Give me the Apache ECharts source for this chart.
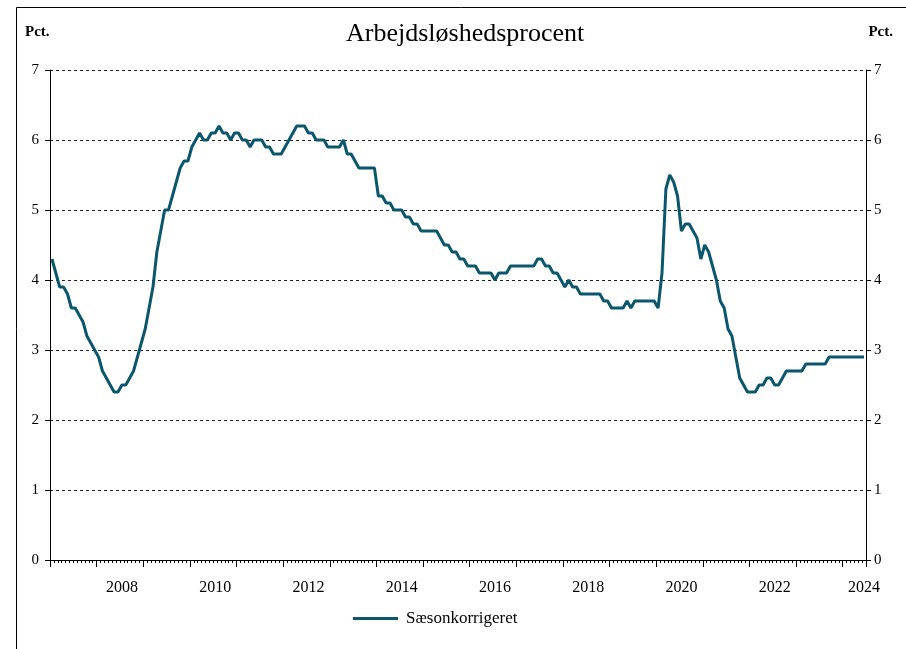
<!DOCTYPE html>
<html>
<head>
<meta charset="utf-8">
<script src="https://cdn.jsdelivr.net/npm/echarts@6/dist/echarts.min.js"></script>
<style>
  html, body { margin: 0; padding: 0; background: #fff; }
  #main { width: 906px; height: 649px; }
</style>
</head>
<body>
<div id="main"></div>
<script>
// Ledighed, sæsonkorrigeret, pct. (månedlig, jan 2007 - jun 2024)
var rate2007 = [4.3, 4.1, 3.9, 3.9, 3.8, 3.6, 3.6, 3.5, 3.4, 3.2, 3.1, 3.0];
var rate2008 = [2.9, 2.7, 2.6, 2.5, 2.4, 2.4, 2.5, 2.5, 2.6, 2.7, 2.9, 3.1];
var rate2009 = [3.3, 3.6, 3.9, 4.4, 4.7, 5.0, 5.0, 5.2, 5.4, 5.6, 5.7, 5.7];
var rate2010 = [5.9, 6.0, 6.1, 6.0, 6.0, 6.1, 6.1, 6.2, 6.1, 6.1, 6.0, 6.1];
var rate2011 = [6.1, 6.0, 6.0, 5.9, 6.0, 6.0, 6.0, 5.9, 5.9, 5.8, 5.8, 5.8];
var rate2012 = [5.9, 6.0, 6.1, 6.2, 6.2, 6.2, 6.1, 6.1, 6.0, 6.0, 6.0, 5.9];
var rate2013 = [5.9, 5.9, 5.9, 6.0, 5.8, 5.8, 5.7, 5.6, 5.6, 5.6, 5.6, 5.6];
var rate2014 = [5.2, 5.2, 5.1, 5.1, 5.0, 5.0, 5.0, 4.9, 4.9, 4.8, 4.8, 4.7];
var rate2015 = [4.7, 4.7, 4.7, 4.7, 4.6, 4.5, 4.5, 4.4, 4.4, 4.3, 4.3, 4.2];
var rate2016 = [4.2, 4.2, 4.1, 4.1, 4.1, 4.1, 4.0, 4.1, 4.1, 4.1, 4.2, 4.2];
var rate2017 = [4.2, 4.2, 4.2, 4.2, 4.2, 4.3, 4.3, 4.2, 4.2, 4.1, 4.1, 4.0];
var rate2018 = [3.9, 4.0, 3.9, 3.9, 3.8, 3.8, 3.8, 3.8, 3.8, 3.8, 3.7, 3.7];
var rate2019 = [3.6, 3.6, 3.6, 3.6, 3.7, 3.6, 3.7, 3.7, 3.7, 3.7, 3.7, 3.7];
var rate2020 = [3.6, 4.1, 5.3, 5.5, 5.4, 5.2, 4.7, 4.8, 4.8, 4.7, 4.6, 4.3];
var rate2021 = [4.5, 4.4, 4.2, 4.0, 3.7, 3.6, 3.3, 3.2, 2.9, 2.6, 2.5, 2.4];
var rate2022 = [2.4, 2.4, 2.5, 2.5, 2.6, 2.6, 2.5, 2.5, 2.6, 2.7, 2.7, 2.7];
var rate2023 = [2.7, 2.7, 2.8, 2.8, 2.8, 2.8, 2.8, 2.8, 2.9, 2.9, 2.9, 2.9];
var rate2024 = [2.9, 2.9, 2.9, 2.9, 2.9, 2.9];

var years = [2007, 2008, 2009, 2010, 2011, 2012, 2013, 2014, 2015,
             2016, 2017, 2018, 2019, 2020, 2021, 2022, 2023, 2024];
var yTicks = [0, 1, 2, 3, 4, 5, 6, 7];

var byYear = [rate2007, rate2008, rate2009, rate2010, rate2011, rate2012,
              rate2013, rate2014, rate2015, rate2016, rate2017, rate2018,
              rate2019, rate2020, rate2021, rate2022, rate2023, rate2024];

var months = [];
var values = [];
byYear.forEach(function (arr, i) {
    arr.forEach(function (v, j) {
        months.push(years[i] + '-' + (j < 9 ? '0' : '') + (j + 1));
        values.push(v);
    });
});
var last = months.length - 1;

var serif = 'Liberation Serif';
var lineColor = '#0a566c';

var myChart = echarts.init(document.getElementById('main'));

myChart.setOption({
    animation: false,
    title: {
        text: 'Arbejdsløshedsprocent',
        left: 341,
        top: 16,
        textStyle: { fontFamily: serif, fontWeight: 'normal', fontSize: 26, color: '#000' }
    },
    graphic: [
        { type: 'rect', shape: { x: 16.5, y: 7.5, width: 1000, height: 1000 },
          style: { fill: 'none', stroke: '#000', lineWidth: 1 } },
        { type: 'text', left: 25, top: 25,
          style: { text: 'Pct.', font: 'bold 15px "Liberation Serif"', fill: '#000' } },
        { type: 'text', right: 13, top: 25,
          style: { text: 'Pct.', font: 'bold 15px "Liberation Serif"', fill: '#000' } }
    ],
    legend: {
        left: 353,
        top: 610,
        padding: 0,
        icon: 'rect',
        itemWidth: 45,
        itemHeight: 3,
        itemGap: 10,
        textStyle: { fontFamily: serif, fontSize: 17, color: '#000', padding: [0, 0, 0, 3] },
        data: ['Sæsonkorrigeret']
    },
    grid: {
        left: 50,
        right: 40,
        top: 70,
        bottom: 89
    },
    xAxis: [
        {
            type: 'category',
            data: months,
            boundaryGap: true,
            axisLine: { show: true, lineStyle: { color: '#000', width: 1 } },
            axisTick: {
                show: true,
                length: 7,
                lineStyle: { color: '#000' },
                interval: function (i) { return i % 12 === 0; }
            },
            axisLabel: {
                fontFamily: serif,
                fontSize: 16,
                color: '#000',
                margin: 20,
                interval: function (i) { return i % 24 === 18 || i === last; },
                formatter: function (v) { return v.slice(0, 4); }
            },
            splitLine: { show: false }
        },
        {
            type: 'category',
            data: months,
            boundaryGap: true,
            position: 'bottom',
            axisLine: { show: false },
            axisTick: { show: true, length: 3, interval: 0, lineStyle: { color: '#000' } },
            axisLabel: { show: false },
            splitLine: { show: false }
        }
    ],
    yAxis: [
        {
            type: 'value',
            min: yTicks[0],
            max: yTicks[yTicks.length - 1],
            interval: 1,
            position: 'left',
            axisLine: { show: true, lineStyle: { color: '#000', width: 1 } },
            axisTick: { show: true, length: 5, lineStyle: { color: '#000' } },
            axisLabel: { fontFamily: serif, fontSize: 15, color: '#000', margin: 11 },
            splitLine: { show: true, lineStyle: { color: '#222', type: [3, 3], width: 1 } }
        },
        {
            type: 'value',
            min: yTicks[0],
            max: yTicks[yTicks.length - 1],
            interval: 1,
            position: 'right',
            axisLine: { show: true, lineStyle: { color: '#000', width: 1 } },
            axisTick: { show: true, length: 5, lineStyle: { color: '#000' } },
            axisLabel: { fontFamily: serif, fontSize: 15, color: '#000', margin: 8 },
            splitLine: { show: false }
        }
    ],
    series: [
        {
            name: 'Sæsonkorrigeret',
            type: 'line',
            data: values,
            showSymbol: false,
            symbol: 'none',
            lineStyle: { color: lineColor, width: 3 },
            itemStyle: { color: lineColor },
            z: 5
        }
    ]
});
</script>
</body>
</html>
